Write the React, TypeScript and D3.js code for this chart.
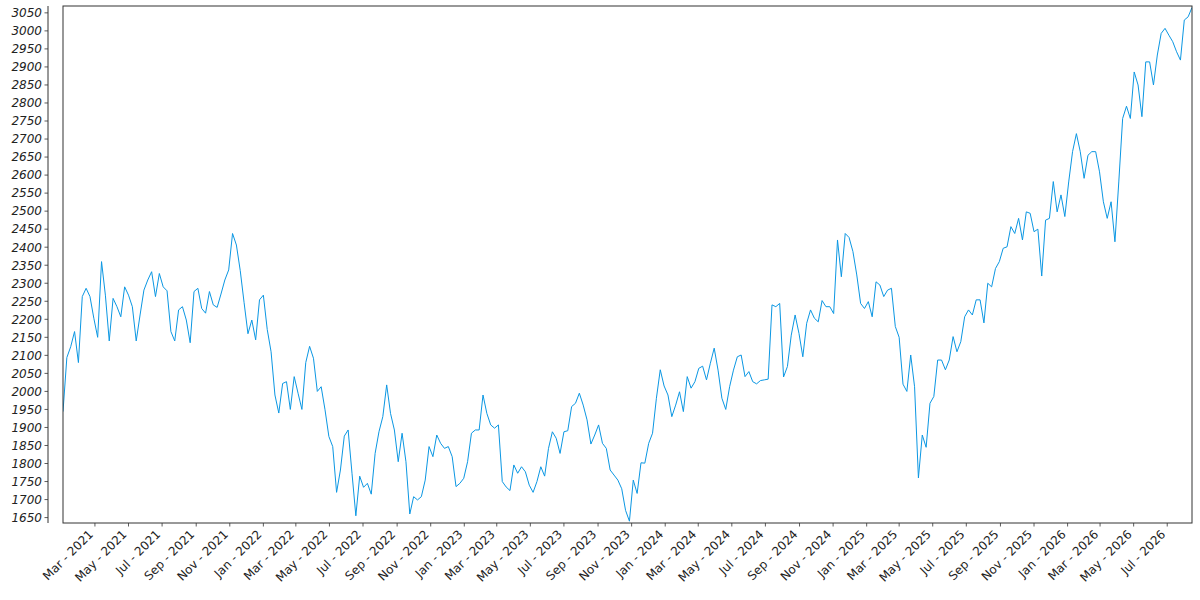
import React from 'react';
import * as d3 from 'd3';

// Weekly closing values
const startDate = '2021-01-02';
const stepDays = 7;
const values: number[] = [
  1944, 2094, 2124, 2166, 2080, 2263, 2286, 2263, 2203, 2150,
  2360, 2267, 2140, 2258, 2235, 2207, 2290, 2267, 2235, 2140,
  2212, 2281, 2309, 2332, 2263, 2327, 2290, 2279, 2166, 2140,
  2226, 2235, 2198, 2135, 2277, 2286, 2230, 2217, 2277, 2240,
  2233, 2270, 2309, 2337, 2438, 2406, 2335, 2246, 2160, 2198,
  2143, 2254, 2267, 2172, 2110, 1990, 1940, 2022, 2027, 1950,
  2041, 1995, 1950, 2080, 2125, 2092, 2000, 2013, 1949, 1875,
  1847, 1720, 1782, 1876, 1893, 1773, 1655, 1765, 1734, 1745,
  1715, 1828, 1888, 1930, 2018, 1939, 1893, 1805, 1884, 1805,
  1660, 1708, 1699, 1708, 1754, 1847, 1819, 1879, 1856, 1842,
  1847, 1819, 1736, 1745, 1759, 1805, 1884, 1893, 1893, 1990,
  1939, 1907, 1898, 1907, 1750, 1735, 1725, 1796, 1773, 1791,
  1777, 1740, 1720, 1750, 1791, 1765, 1842, 1888, 1870, 1828,
  1888, 1891, 1958, 1967, 1995, 1962, 1921, 1854, 1879, 1907,
  1856, 1842, 1782, 1768, 1754, 1730, 1670, 1640, 1754, 1717,
  1802, 1801, 1856, 1884, 1981, 2060, 2015, 1990, 1930, 1962,
  1999, 1944, 2041, 2009, 2027, 2064, 2070, 2032, 2078, 2120,
  2059, 1981, 1950, 2013, 2059, 2096, 2101, 2041, 2055, 2027,
  2021, 2030, 2032, 2034, 2240, 2235, 2244, 2040, 2069, 2156,
  2212, 2161, 2096, 2189, 2226, 2203, 2193, 2252, 2235, 2235,
  2216, 2420, 2318, 2438, 2427, 2388, 2323, 2244, 2230, 2249,
  2207, 2304, 2295, 2263, 2281, 2286, 2180, 2150, 2020, 2000,
  2101, 2013, 1760, 1879, 1845, 1967, 1986, 2087, 2087, 2060,
  2087, 2152, 2110, 2138, 2207, 2226, 2212, 2254, 2254, 2190,
  2300, 2290, 2341, 2360, 2397, 2401, 2457, 2438, 2480, 2420,
  2498, 2494, 2443, 2450, 2320, 2475, 2480, 2582, 2498, 2545,
  2485, 2581, 2665, 2715, 2665, 2591, 2655, 2665, 2665, 2609,
  2526, 2480, 2526, 2415, 2581, 2757, 2791, 2757, 2886, 2850,
  2762, 2914, 2914, 2850, 2933, 2993, 3007, 2988, 2970, 2942,
  2919, 3030, 3039, 3065,
];
const yTickValues: number[] = [
  1650, 1700, 1750, 1800, 1850, 1900, 1950, 2000, 2050, 2100, 2150, 2200,
  2250, 2300, 2350, 2400, 2450, 2500, 2550, 2600, 2650, 2700, 2750, 2800,
  2850, 2900, 2950, 3000, 3050,
];
const yDomain: [number, number] = [1635, 3069];

const W = 1200;
const H = 600;
const left = 63;
const right = 1192;
const top = 6;
const bottom = 523;
const yAxisX = 48;

export default function App() {
  const parse = d3.timeParse('%Y-%m-%d');
  const start = parse(startDate) as Date;
  const data = values.map((v, i) => ({ date: d3.timeDay.offset(start, i * stepDays), value: v }));
  const end = data[data.length - 1].date;

  const x = d3.scaleTime().domain([start, end]).range([left, right]);
  const y = d3.scaleLinear().domain(yDomain).range([bottom, top]);

  const line = d3
    .line<{ date: Date; value: number }>()
    .x((d) => x(d.date))
    .y((d) => y(d.value));

  const xTicks = d3.timeMonth
    .range(d3.timeMonth.ceil(start), end)
    .filter((d) => d.getMonth() % 2 === 0 && d.getTime() > start.getTime() + 40 * 86400000);
  const fmt = d3.timeFormat('%b - %Y');
  const axisColor = '#333333';
  const textColor = '#222222';
  const font = '"DejaVu Sans", sans-serif';

  return (
    <svg
      width={W}
      height={H}
      style={{ position: 'absolute', left: 0, top: 0, background: '#ffffff' }}
      xmlns="http://www.w3.org/2000/svg"
    >
      <defs>
        <clipPath id="plotClip">
          <rect x={left} y={top} width={right - left} height={bottom - top} />
        </clipPath>
      </defs>
      <rect x={0} y={0} width={W} height={H} fill="#ffffff" />
      <path d={line(data) ?? ''} fill="none" stroke="#0b97e3" strokeWidth={1} clipPath="url(#plotClip)" />
      <rect x={left} y={top} width={right - left} height={bottom - top} fill="none" stroke={axisColor} strokeWidth={1} />

      {/* y axis (offset spine) */}
      <line x1={yAxisX} x2={yAxisX} y1={top} y2={bottom} stroke={axisColor} strokeWidth={1} />
      {yTickValues.map((t) => (
        <g key={t} transform={`translate(0,${y(t)})`}>
          <line x1={yAxisX - 3.5} x2={yAxisX} y1={0} y2={0} stroke={axisColor} strokeWidth={0.8} />
          <text
            x={yAxisX - 6}
            y={0}
            dy="0.36em"
            textAnchor="end"
            fontFamily={font}
            fontStyle="italic"
            fontSize={12}
            fill={textColor}
          >
            {t}
          </text>
        </g>
      ))}

      {/* x axis ticks */}
      {xTicks.map((d) => {
        const px = x(d);
        return (
          <g key={d.toISOString()}>
            <line x1={px} x2={px} y1={bottom} y2={bottom + 3.5} stroke={axisColor} strokeWidth={0.8} />
            <text
              transform={`translate(${px - 1},${bottom + 12}) rotate(-45)`}
              textAnchor="end"
              fontFamily={font}
              fontSize={12}
              fill={textColor}
            >
              {fmt(d)}
            </text>
          </g>
        );
      })}
    </svg>
  );
}
